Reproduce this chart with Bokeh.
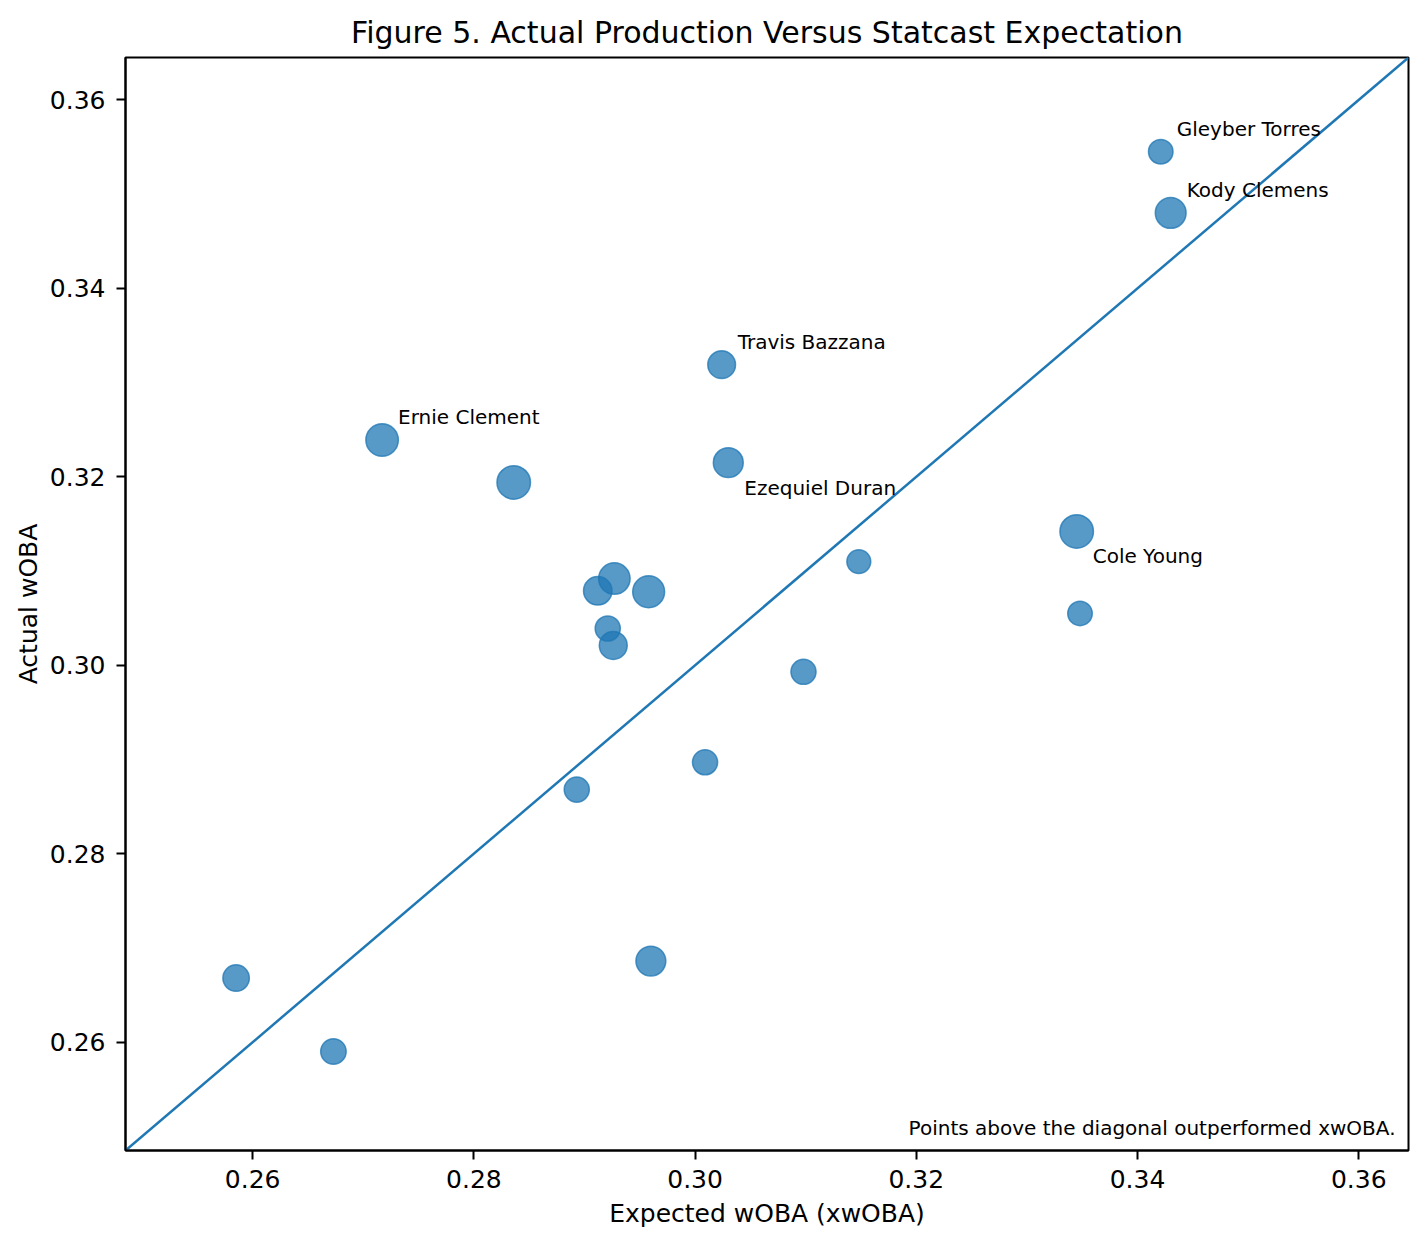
import numpy as np
from bokeh.plotting import figure
from bokeh.models import Range1d, FixedTicker, PrintfTickFormatter, ColumnDataSource
from bokeh.core.properties import value
from bokeh.embed import file_html
from bokeh.resources import INLINE

# ---- data ----
xwoba = [0.2585, 0.2673, 0.2717, 0.2836, 0.2893, 0.2912, 0.2927, 0.2921, 0.2926, 0.2958,
         0.2960, 0.3009, 0.3024, 0.3030, 0.3098, 0.3148, 0.3345, 0.3348, 0.3421, 0.3430]
woba = [0.2668, 0.2590, 0.3239, 0.3194, 0.2868, 0.3079, 0.3092, 0.3039, 0.3021, 0.3078,
        0.2686, 0.2897, 0.3319, 0.3215, 0.2993, 0.3110, 0.3142, 0.3055, 0.3545, 0.3480]
pa = [383, 356, 565, 599, 346, 440, 533, 346, 423, 546,
      482, 346, 417, 482, 346, 315, 599, 331, 331, 510]
names = ["", "", "Ernie Clement", "", "", "", "", "", "", "",
         "", "", "Travis Bazzana", "Ezequiel Duran", "", "", "Cole Young", "", "Gleyber Torres", "Kody Clemens"]
label_side = ["", "", "above", "", "", "", "", "", "", "",
              "", "", "above", "below", "", "", "below", "", "above", "above"]
ticks = [0.26, 0.28, 0.30, 0.32, 0.34, 0.36]
title = "Figure 5. Actual Production Versus Statcast Expectation"
note = "Points above the diagonal outperformed xwOBA."

FONT = "DejaVu Sans"
BLUE = "#1f77b4"

lo = min(min(xwoba), min(woba)) - 0.01
hi = max(max(xwoba), max(woba)) + 0.01

p = figure(frame_width=1283, frame_height=1093,
           min_border_left=125, min_border_right=8, min_border_top=57, min_border_bottom=80,
           x_range=Range1d(lo, hi), y_range=Range1d(lo, hi),
           output_backend="svg", toolbar_location=None, title=title)

p.title.text_font = FONT
p.title.text_font_size = "30px"
p.title.text_font_style = "normal"
p.title.align = "center"
p.title.text_color = "black"
p.title.standoff = 15

p.grid.visible = False
p.outline_line_color = "black"
p.outline_line_width = 2
p.outline_line_alpha = 1.0
p.background_fill_color = "white"
p.border_fill_color = "white"

for ax in (p.xaxis[0], p.yaxis[0]):
    ax.ticker = FixedTicker(ticks=ticks)
    ax.formatter = PrintfTickFormatter(format="%.2f")
    ax.minor_tick_line_color = None
    ax.major_tick_in = 0
    ax.major_tick_out = 9
    ax.major_tick_line_width = 2
    ax.major_tick_line_color = "black"
    ax.axis_line_color = "black"
    ax.axis_line_width = 2
    ax.major_label_text_font = FONT
    ax.major_label_text_font_size = "25px"
    ax.major_label_text_color = "black"
    ax.axis_label_text_font = FONT
    ax.axis_label_text_font_size = "25px"
    ax.axis_label_text_font_style = "normal"
    ax.axis_label_text_color = "black"

p.xaxis.axis_label = "Expected wOBA (xwOBA)"
p.yaxis.axis_label = "Actual wOBA"
p.xaxis.major_label_standoff = 10
p.yaxis.major_label_standoff = 11
p.xaxis.axis_label_standoff = 8
p.yaxis.axis_label_standoff = 4

# diagonal y = x
p.line([lo, hi], [lo, hi], line_color=BLUE, line_width=2.5)

sizes = [1.43 * np.sqrt(v) - 1.5 for v in pa]
src = ColumnDataSource(dict(x=xwoba, y=woba, s=sizes))
p.scatter("x", "y", size="s", source=src, fill_color=BLUE, fill_alpha=0.75,
          line_color=BLUE, line_alpha=0.75, line_width=1.5)

lx, ly, lt, dy = [], [], [], []
for xv, yv, n, side in zip(xwoba, woba, names, label_side):
    if n:
        lx.append(xv); ly.append(yv); lt.append(n)
        dy.append(-23 if side == "above" else 25)
lsrc = ColumnDataSource(dict(x=lx, y=ly, t=lt, dy=dy))
p.text("x", "y", text="t", source=lsrc, x_offset=16, y_offset="dy",
       text_font=value(FONT), text_font_size="20px", text_color="black",
       text_baseline="alphabetic", text_align="left")

p.text(x=[hi], y=[lo], text=[note], x_offset=-13, y_offset=-23,
       text_font=value(FONT), text_font_size="20px", text_color="black",
       text_baseline="alphabetic", text_align="right")

open("out.html", "w").write(file_html(p, INLINE))
